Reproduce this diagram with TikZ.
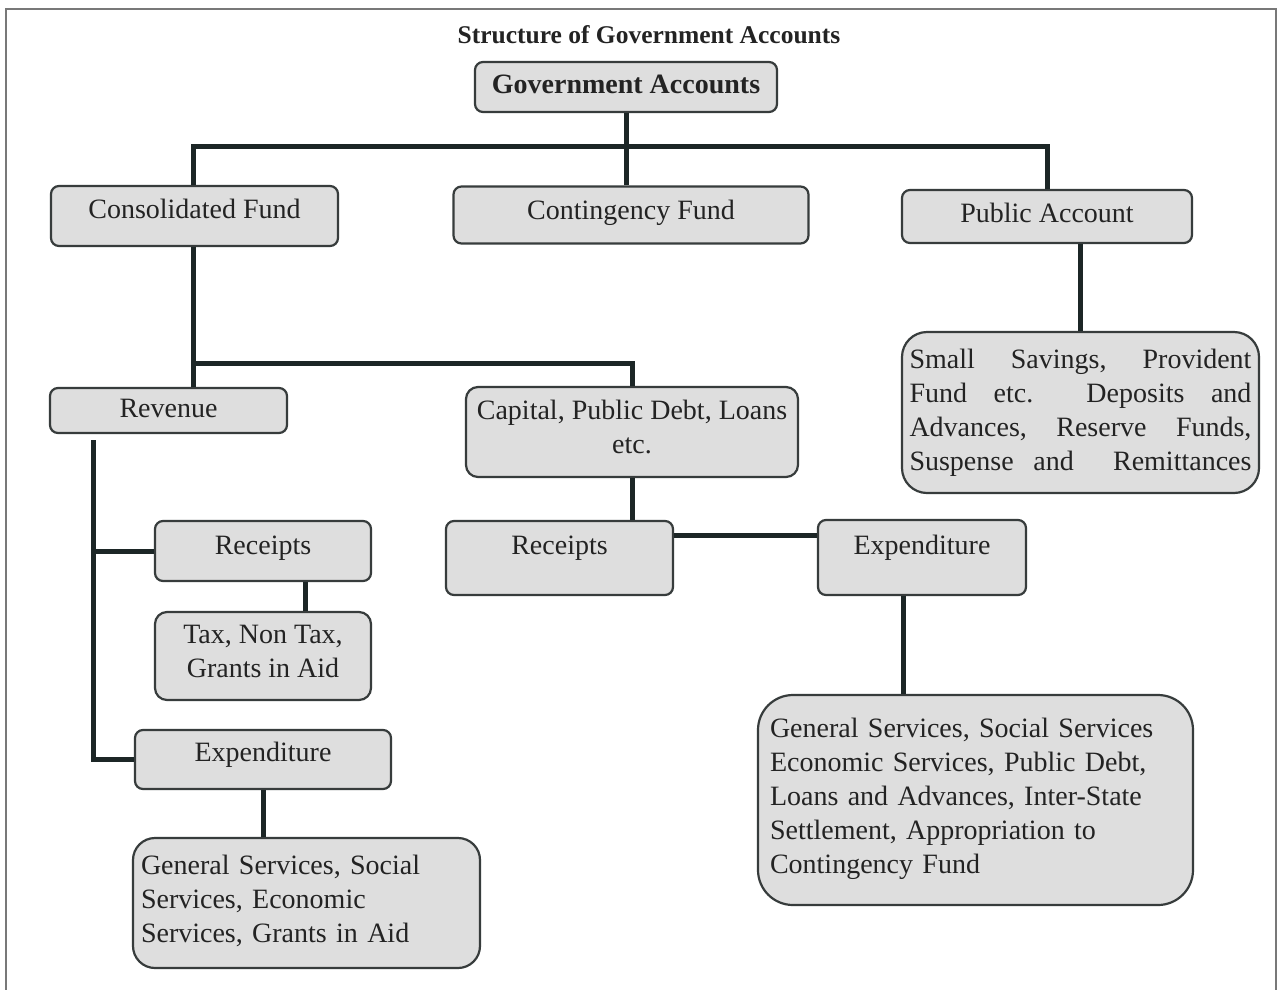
\documentclass[tikz,border=0pt]{standalone}
\usepackage{fontspec}
\setmainfont{Liberation Serif}
\definecolor{boxfill}{RGB}{222,222,222}
\definecolor{boxline}{RGB}{55,60,60}
\definecolor{conn}{RGB}{28,38,38}
\definecolor{txt}{RGB}{35,35,35}
\definecolor{framecol}{RGB}{120,120,120}
\tikzset{
  box/.style={draw=boxline, line width=2.2pt, fill=boxfill, rounded corners=8pt,
    inner sep=0pt, text=txt, font=\fontsize{28}{34}\selectfont, text height=20pt},
  bigbox/.style={draw=boxline, line width=2.2pt, fill=boxfill, inner sep=0pt,
    text=txt, font=\fontsize{28}{34}\selectfont},
  link/.style={draw=conn, line width=5pt, line join=miter}
}
\begin{document}
\begin{tikzpicture}[x=1pt,y=-1pt]
\useasboundingbox (0,0) rectangle (1278,989);
\clip (0,0) rectangle (1278,989);
\fill[white] (0,0) rectangle (1278,989);
\draw[framecol, line width=1.8pt] (6,1010) -- (6,9) -- (1276,9) -- (1276,1010);

\node[text=txt, font=\fontsize{25.5}{30}\selectfont\bfseries] (title) at (649,35) {Structure of Government Accounts};

\node[box, minimum width=302pt, minimum height=50pt, text depth=7.5pt, font=\fontsize{28}{34}\selectfont\bfseries] (ga) at (626,87) {Government Accounts};
\node[box, minimum width=287pt, minimum height=60pt, text depth=15.5pt] (cf) at (194.5,216) {Consolidated Fund};
\node[box, minimum width=355pt, minimum height=57pt, text depth=11.5pt] (ctg) at (631,215) {Contingency Fund};
\node[box, minimum width=290pt, minimum height=53pt, text depth=8.5pt] (pa) at (1047,216.5) {Public Account};

\node[bigbox, rounded corners=25pt, minimum width=357pt, minimum height=161pt, text width=342pt, align=left] (ss) at (1080.5,412.5)
  {\makebox[342pt][l]{Small\hfill Savings,\hfill Provident}\\
   \makebox[342pt][l]{Fund\hfill etc.\hfill\hfill Deposits\hfill and}\\
   \makebox[342pt][l]{Advances,\hfill Reserve\hfill Funds,}\\
   \makebox[342pt][l]{Suspense\hfill and\hfill\hfill Remittances}};

\node[box, minimum width=237pt, minimum height=45pt, text depth=6.5pt] (rev) at (168.5,410.5) {Revenue};
\node[bigbox, rounded corners=12pt, minimum width=332pt, minimum height=90pt, align=center] (cap) at (632,432) {Capital, Public Debt, Loans\\etc.\\[-24pt]\mbox{}};

\node[box, minimum width=216pt, minimum height=60pt, text depth=13.5pt] (rec1) at (263,551) {Receipts};
\node[bigbox, rounded corners=12pt, minimum width=216pt, minimum height=88pt, align=center] (tax) at (263,656) {Tax, Non Tax,\\Grants in Aid\\[-25pt]\mbox{}};
\node[box, minimum width=256pt, minimum height=59pt, text depth=16.5pt] (exp1) at (263,759.5) {Expenditure};
\node[bigbox, rounded corners=22pt, minimum width=347pt, minimum height=130pt, text width=331pt, align=left] (bl) at (306.5,903)
  {General Services, Social\\Services, Economic\\Services, Grants in Aid\\[-26pt]\mbox{}};

\node[box, minimum width=227pt, minimum height=74pt, text depth=27.5pt] (rec2) at (559.5,558) {Receipts};
\node[box, minimum width=208pt, minimum height=75pt, text depth=26.5pt] (exp2) at (922,557.5) {Expenditure};
\node[bigbox, rounded corners=35pt, minimum width=435pt, minimum height=210pt, text width=411pt, align=left] (br) at (975.5,800)
  {General Services, Social Services\\Economic Services, Public Debt,\\Loans and Advances, Inter-State\\Settlement, Appropriation to\\Contingency Fund\\[-26pt]\mbox{}};

% connectors
\coordinate (h1) at (626,146);
\coordinate (h2) at (193,363);
\coordinate (r0) at (93,440);
\draw[link] (ga.south) -- (ga.south |- ctg.north);
\draw[link] (cf.north -| h2) |- (h1) -| (pa.north);
\draw[link] (ss.north) -- (ss.north |- pa.south);
\draw[link] (cf.south -| h2) -- (h2) -| (cap.north);
\draw[link] (h2) -- (h2 |- rev.north);
\draw[link] (r0) |- (exp1.west);
\draw[link] (r0 |- rec1.west) -- (rec1.west);
\draw[link] ([xshift=42pt]rec1.south) -- ([xshift=42pt]tax.north);
\draw[link] (exp1.south) -- (exp1.south |- bl.north);
\draw[link] (cap.south) -- (cap.south |- rec2.north);
\draw[link] ([yshift=23pt]rec2.east) -- ([yshift=23pt]rec2.east -| exp2.west);
\draw[link] ([xshift=-19pt]exp2.south) -- ([xshift=-19pt]exp2.south |- br.north);
\end{tikzpicture}
\end{document}
